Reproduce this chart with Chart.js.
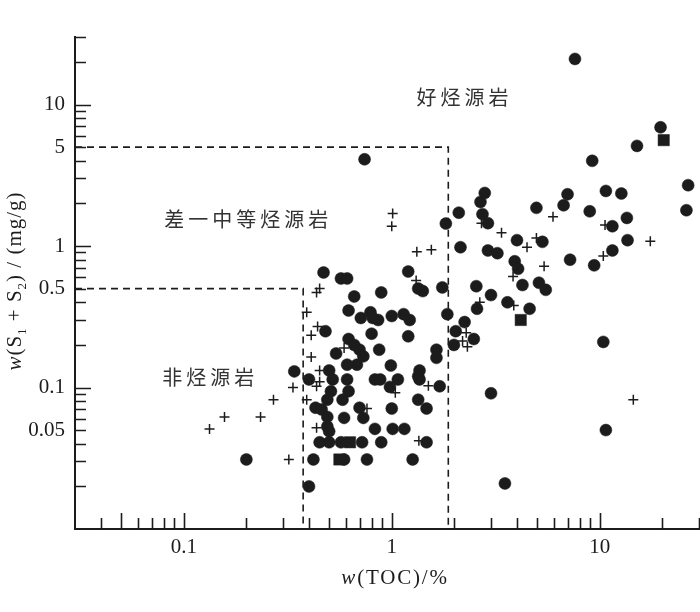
<!DOCTYPE html>
<html>
<head>
<meta charset="utf-8">
<script src="https://cdn.jsdelivr.net/npm/chart.js@4.4.0/dist/chart.umd.min.js"></script>
<style>
  html, body { margin: 0; padding: 0; background: #fff; overflow: hidden; }
  canvas { display: block; }
</style>
</head>
<body>
<canvas id="tocChart" width="700" height="612"></canvas>
<script>
// w(TOC) in %, w(S1+S2) in mg/g
const circleToc = [0.2, 0.34, 0.40, 0.42, 0.47, 0.57, 0.61, 0.74, 0.66, 0.89, 1.2, 1.34, 1.41, 1.75,
  0.62, 0.71, 0.79, 0.81, 0.86, 1.0, 1.14, 1.22, 1.85, 0.48, 0.80, 1.2, 0.62, 0.66, 0.70, 0.73,
  0.68, 0.61, 0.54, 0.87, 1.64, 1.64, 0.50, 0.99, 1.36, 1.34, 1.36, 0.40, 0.52, 0.61, 0.83, 0.88,
  1.07, 0.98, 1.70, 0.51, 0.62, 0.58, 0.49, 1.34, 0.43, 0.46, 0.70, 1.0, 1.47, 0.49, 0.59, 0.73,
  0.49, 0.50, 0.83, 1.01, 1.15, 0.45, 0.50, 0.57, 0.72, 0.89, 1.47, 0.59, 0.76, 1.26, 3.0, 3.5,
  10.4, 10.7, 1.82, 2.1, 2.14, 2.67, 2.8, 2.73, 2.9, 4.0, 5.3, 2.9, 3.22, 4.96, 6.7, 7.0, 8.95,
  10.7, 12.7, 26.6, 26.1, 11.5, 13.5, 13.6, 7.2, 9.4, 11.5, 3.9, 4.05, 4.25, 5.1, 5.5, 2.55, 3.0,
  2.57, 3.6, 4.6, 2.24, 2.03, 1.99, 2.48, 7.6, 19.6, 15.1, 9.2];
const circleS12 = [0.031, 0.13, 0.020, 0.031, 0.65, 0.59, 0.59, 4.1, 0.44, 0.47, 0.66, 0.50, 0.48, 0.51,
  0.35, 0.31, 0.34, 0.31, 0.30, 0.32, 0.33, 0.30, 0.33, 0.25, 0.24, 0.23, 0.22, 0.20, 0.185, 0.166,
  0.145, 0.145, 0.174, 0.185, 0.185, 0.162, 0.132, 0.143, 0.132, 0.12, 0.114, 0.114, 0.114, 0.114, 0.114, 0.114,
  0.114, 0.101, 0.102, 0.094, 0.094, 0.082, 0.082, 0.082, 0.072, 0.070, 0.072, 0.071, 0.071, 0.062, 0.061, 0.061,
  0.053, 0.049, 0.051, 0.051, 0.051, 0.041, 0.041, 0.041, 0.041, 0.041, 0.041, 0.031, 0.031, 0.031, 0.091, 0.021,
  0.21, 0.050, 1.44, 1.72, 0.98, 2.05, 2.37, 1.68, 1.45, 1.10, 1.07, 0.93, 0.89, 1.86, 1.94, 2.32, 1.76,
  2.45, 2.35, 2.69, 1.79, 1.38, 1.58, 1.10, 0.80, 0.73, 0.93, 0.78, 0.69, 0.53, 0.55, 0.49, 0.52, 0.45,
  0.36, 0.40, 0.36, 0.29, 0.25, 0.20, 0.22, 21, 6.9, 5.1, 4.0];

const crossToc = [0.133, 0.157, 0.234, 0.27, 0.32, 0.335, 0.39, 0.44, 0.41, 0.45, 0.435, 0.41, 0.45, 0.45,
  0.435, 0.39, 0.435, 0.59, 0.76, 1.04, 1.5, 1.35, 1.01, 1.0, 1.32, 1.55, 1.31, 2.28, 2.19, 2.31,
  2.7, 3.37, 5.96, 4.96, 4.47, 5.4, 3.83, 2.65, 3.86, 10.6, 10.4, 17.5, 14.5];
const crossS12 = [0.051, 0.062, 0.062, 0.082, 0.031, 0.10, 0.34, 0.27, 0.234, 0.50, 0.47, 0.164, 0.132, 0.11,
  0.102, 0.082, 0.052, 0.19, 0.071, 0.092, 0.103, 0.042, 1.70, 1.38, 0.91, 0.94, 0.57, 0.244, 0.213, 0.194,
  1.45, 1.24, 1.61, 1.14, 0.98, 0.72, 0.61, 0.40, 0.38, 1.41, 0.85, 1.08, 0.082];

const squareToc = [0.56, 0.63, 4.17, 20.3];
const squareS12 = [0.031, 0.041, 0.30, 5.6];

// class limits: non-source rock, poor-to-medium, good
const limitToc = [0.375, 1.87];
const limitS12 = [0.5, 5];
const zoneNames = ["非烃源岩", "差一中等烃源岩", "好烃源岩"];

const xTickLabels = [0.1, 1, 10];
const yTickLabels = [0.05, 0.1, 0.5, 1, 5, 10];
const xRange = [0.03, 30];
const yRange = [0.01, 30];

function zip(xs, ys) {
  return xs.map((v, i) => ({ x: v, y: ys[i] }));
}

const serif = "'Liberation Serif', 'Times New Roman', serif";
const ink = "#1c1c1c";

// rich text: [text, italic, subscript]
function drawRich(ctx, parts, cx, baseline, size, spacing) {
  ctx.letterSpacing = spacing + "px";
  const fontOf = (p) => (p[1] ? "italic " : "") + (p[2] ? Math.round(size * 0.6) : size) + "px " + serif;
  let total = 0;
  const widths = parts.map((p) => {
    ctx.font = fontOf(p);
    const w = ctx.measureText(p[0]).width;
    total += w;
    return w;
  });
  let x = cx - total / 2;
  ctx.textAlign = "left";
  ctx.textBaseline = "alphabetic";
  parts.forEach((p, i) => {
    ctx.font = fontOf(p);
    ctx.fillText(p[0], x, baseline + (p[2] ? size * 0.22 : 0));
    x += widths[i];
  });
}

// pin the plot frame to where it sits in the original figure
const frame = {
  id: "frame",
  afterLayout(chart) {
    const { chartArea: a, scales: { x, y } } = chart;
    a.left = 75;
    a.right = 699;
    a.width = a.right - a.left;
    x.left = a.left;
    x.right = a.right;
    x.width = a.width;
    x.configure();
    y.left = 0;
    y.right = a.left;
    y.width = a.left;
    y.configure();
  }
};

const decor = {
  id: "decor",
  afterDraw(chart) {
    const { ctx, scales: { x, y } } = chart;
    ctx.save();
    ctx.strokeStyle = ink;
    ctx.lineWidth = 1.6;
    ctx.beginPath();
    for (let d = -2; d <= 1; d++) {
      for (let m = 1; m <= 9; m++) {
        const v = m * Math.pow(10, d);
        if (v > yRange[0] * 1.001 && v <= yRange[1] * 1.001) {
          const py = Math.round(y.getPixelForValue(v)) + 0.5;
          const len = m === 1 ? 16 : 11;
          ctx.moveTo(x.left, py);
          ctx.lineTo(x.left + len, py);
        }
        if (v > xRange[0] * 1.001 && v <= xRange[1] * 1.001) {
          const px = Math.round(x.getPixelForValue(v)) + 0.5;
          const len = (m === 1 || (d === -2 && m === 5)) ? 16 : 11;
          ctx.moveTo(px, y.bottom);
          ctx.lineTo(px, y.bottom - len);
        }
      }
    }
    ctx.stroke();

    // zone names
    ctx.fillStyle = "#333";
    ctx.font = "20px 'Noto Sans CJK SC', sans-serif";
    ctx.letterSpacing = "4px";
    ctx.textAlign = "center";
    ctx.textBaseline = "middle";
    const zoneAt = [[0.131, 0.118], [0.2, 1.53], [2.19, 11.3]];
    zoneNames.forEach((name, i) => {
      ctx.fillText(name, x.getPixelForValue(zoneAt[i][0]) + 2, y.getPixelForValue(zoneAt[i][1]));
    });

    // axis titles
    ctx.fillStyle = ink;
    drawRich(ctx, [["w", true], ["(TOC)/%"]], (x.left + x.right) / 2 + 8, 584, 21, 1.8);
    ctx.save();
    ctx.translate(14, 281);
    ctx.rotate(-Math.PI / 2);
    drawRich(ctx, [["w", true], ["(S"], ["1", false, true], [" + S"], ["2", false, true], [") / (mg/g)"]], 0, 7, 21, 1);
    ctx.restore();
    ctx.restore();
  }
};

new Chart(document.getElementById("tocChart"), {
  type: "scatter",
  data: {
    datasets: [
      {
        label: "limit1",
        type: "line",
        data: [{ x: xRange[0], y: limitS12[0] }, { x: limitToc[0], y: limitS12[0] }, { x: limitToc[0], y: yRange[0] }],
        borderColor: ink,
        borderWidth: 1.6,
        borderDash: [7, 5],
        pointRadius: 0,
        fill: false
      },
      {
        label: "limit2",
        type: "line",
        data: [{ x: xRange[0], y: limitS12[1] }, { x: limitToc[1], y: limitS12[1] }, { x: limitToc[1], y: yRange[0] }],
        borderColor: ink,
        borderWidth: 1.6,
        borderDash: [7, 5],
        pointRadius: 0,
        fill: false
      },
      {
        label: "circle",
        data: zip(circleToc, circleS12),
        pointStyle: "circle",
        pointRadius: 6,
        backgroundColor: ink,
        borderColor: ink,
        borderWidth: 0.5
      },
      {
        label: "square",
        data: zip(squareToc, squareS12),
        pointStyle: "rect",
        pointRadius: 8,
        backgroundColor: ink,
        borderColor: ink,
        borderWidth: 0.5
      },
      {
        label: "cross",
        data: zip(crossToc, crossS12),
        pointStyle: "cross",
        pointRadius: 5,
        borderColor: ink,
        borderWidth: 1.5
      }
    ]
  },
  options: {
    responsive: false,
    animation: false,
    devicePixelRatio: 1,
    layout: { padding: { top: 37, right: 2, left: 0, bottom: 0 } },
    plugins: {
      legend: { display: false },
      tooltip: { enabled: false }
    },
    scales: {
      x: {
        type: "logarithmic",
        min: xRange[0],
        max: xRange[1],
        grid: { display: false },
        border: { display: true, color: ink, width: 2 },
        afterBuildTicks: (scale) => { scale.ticks = xTickLabels.map((v) => ({ value: v })); },
        afterFit: (scale) => { scale.height = 83; },
        ticks: {
          autoSkip: false,
          maxRotation: 0,
          padding: -2,
          color: ink,
          font: { family: serif, size: 21 },
          callback: (v) => String(v)
        }
      },
      y: {
        type: "logarithmic",
        min: yRange[0],
        max: yRange[1],
        grid: { display: false },
        border: { display: true, color: ink, width: 2 },
        afterBuildTicks: (scale) => { scale.ticks = yTickLabels.map((v) => ({ value: v })); },
        afterFit: (scale) => { scale.width = 75; },
        ticks: {
          autoSkip: false,
          padding: 2,
          color: ink,
          font: { family: serif, size: 21 },
          callback: (v) => String(v)
        }
      }
    }
  },
  plugins: [frame, decor]
});
</script>
</body>
</html>
